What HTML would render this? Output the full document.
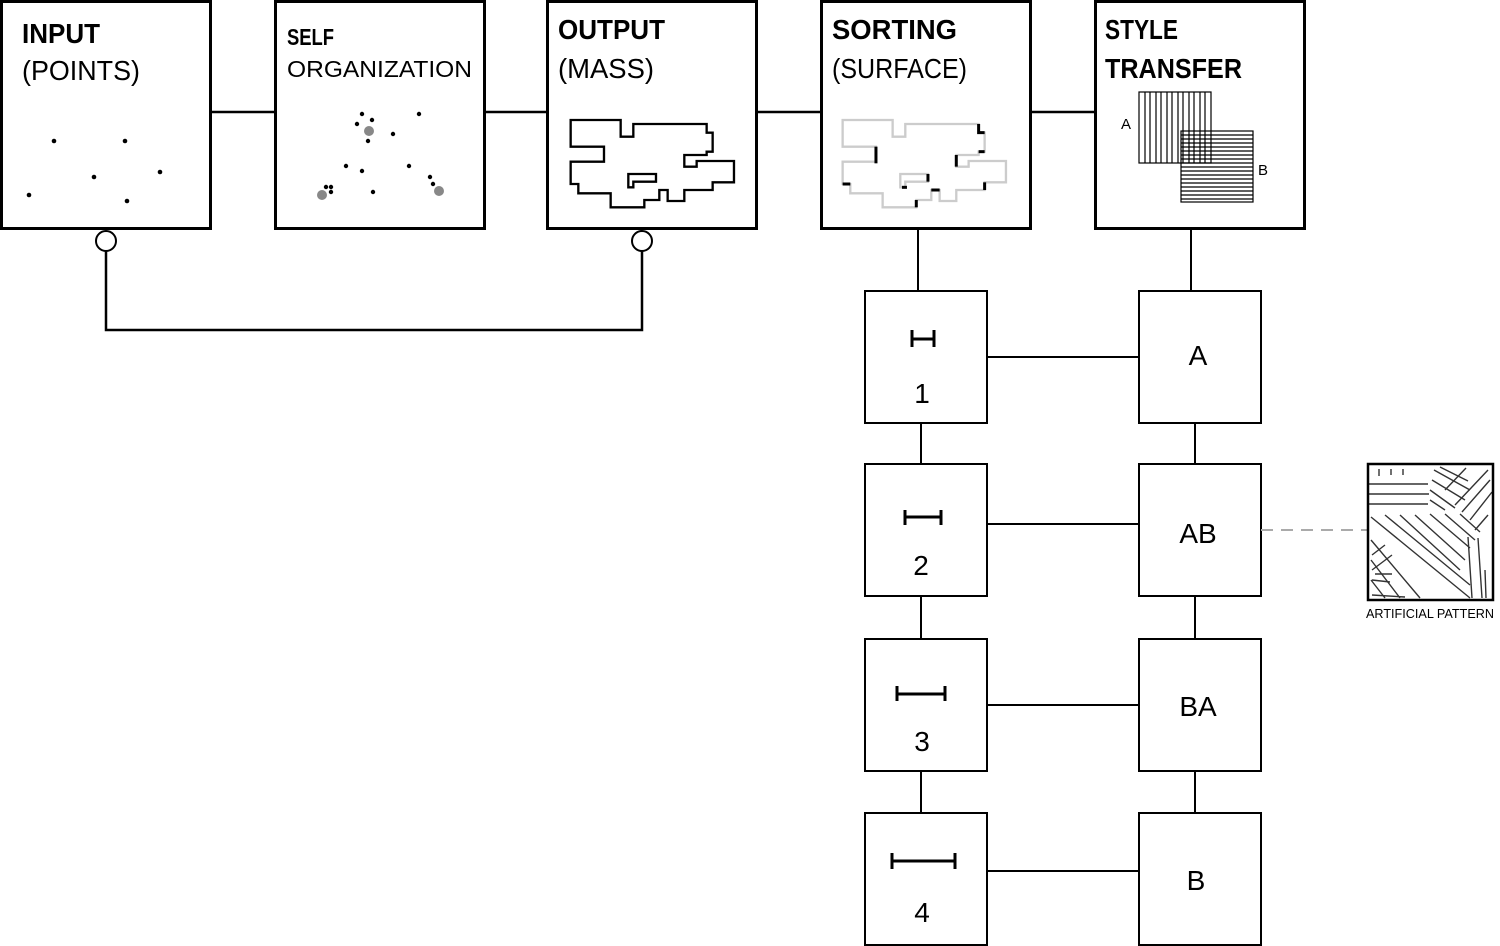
<!DOCTYPE html>
<html><head><meta charset="utf-8"><style>
html,body{margin:0;padding:0;background:#fff;}
svg{display:block;}
text{font-family:"Liberation Sans",sans-serif;fill:#000;}
</style></head><body>
<svg width="1500" height="946" viewBox="0 0 1500 946" xmlns="http://www.w3.org/2000/svg">
<g fill="none" stroke="#000" stroke-width="2.5">
<line x1="211" y1="112" x2="275" y2="112"/>
<line x1="485" y1="112" x2="547" y2="112"/>
<line x1="757" y1="112" x2="821" y2="112"/>
<line x1="1031" y1="112" x2="1095" y2="112"/>
<polyline points="106,251 106,330 642,330 642,251"/>
</g>
<g fill="#fff" stroke="#000" stroke-width="2">
<circle cx="106" cy="241" r="10"/>
<circle cx="642" cy="241" r="10"/>
</g>
<g fill="#fff" stroke="#000" stroke-width="3">
<rect x="1.5" y="1.5" width="209" height="227"/>
<rect x="275.5" y="1.5" width="209" height="227"/>
<rect x="547.5" y="1.5" width="209" height="227"/>
<rect x="821.5" y="1.5" width="209" height="227"/>
<rect x="1095.5" y="1.5" width="209" height="227"/>
</g>
<text x="22" y="43" font-size="28" font-weight="bold" textLength="78" lengthAdjust="spacingAndGlyphs">INPUT</text>
<text x="22" y="80" font-size="28" textLength="118" lengthAdjust="spacingAndGlyphs">(POINTS)</text>
<text x="287" y="45" font-size="23" font-weight="bold" textLength="47" lengthAdjust="spacingAndGlyphs">SELF</text>
<text x="287" y="77" font-size="23" textLength="185" lengthAdjust="spacingAndGlyphs">ORGANIZATION</text>
<text x="558" y="39" font-size="28" font-weight="bold" textLength="107" lengthAdjust="spacingAndGlyphs">OUTPUT</text>
<text x="558" y="78" font-size="28" textLength="96" lengthAdjust="spacingAndGlyphs">(MASS)</text>
<text x="832" y="39" font-size="28" font-weight="bold" textLength="125" lengthAdjust="spacingAndGlyphs">SORTING</text>
<text x="832" y="78" font-size="28" textLength="135" lengthAdjust="spacingAndGlyphs">(SURFACE)</text>
<text x="1105" y="39" font-size="28" font-weight="bold" textLength="73" lengthAdjust="spacingAndGlyphs">STYLE</text>
<text x="1105" y="78" font-size="28" font-weight="bold" textLength="137" lengthAdjust="spacingAndGlyphs">TRANSFER</text>
<g fill="#000">
<circle cx="54" cy="141" r="2.3"/><circle cx="125" cy="141" r="2.3"/><circle cx="94" cy="177" r="2.3"/>
<circle cx="160" cy="172" r="2.3"/><circle cx="29" cy="195" r="2.3"/><circle cx="127" cy="201" r="2.3"/>
<circle cx="362" cy="114" r="2.2"/><circle cx="357" cy="124" r="2.2"/><circle cx="372" cy="120" r="2.2"/>
<circle cx="393" cy="134" r="2.2"/><circle cx="419" cy="114" r="2.2"/><circle cx="368" cy="141" r="2.2"/>
<circle cx="346" cy="166" r="2.2"/><circle cx="362" cy="171" r="2.2"/><circle cx="409" cy="166" r="2.2"/>
<circle cx="430" cy="177" r="2.2"/><circle cx="433" cy="184" r="2.2"/><circle cx="326" cy="187" r="2.2"/>
<circle cx="331" cy="187" r="2.2"/><circle cx="331" cy="192" r="2.2"/><circle cx="373" cy="192" r="2.2"/>
</g>
<g fill="#888"><circle cx="369" cy="131" r="5"/><circle cx="439" cy="191" r="5"/><circle cx="322" cy="195" r="5"/></g>
<g transform="translate(540,100) scale(0.3333)" fill="none" stroke-width="7">
<polygon stroke="#000" points="92,60 242,60 242,110 280,110 280,72 500,72 500,98 518,98 518,155 500,155 500,165 433,165 433,200 470,200 470,183 582,183 582,247 518,247 518,270 433,270 433,303 383,303 383,270 358,270 358,300 313,300 313,322 212,322 212,280 115,280 115,252 92,252 92,185 192,185 192,140 92,140"/>
<polygon stroke="#000" points="265,222 348,222 348,245 280,245 280,262 265,262"/>
<g transform="translate(816,0)">
<polygon stroke="#ccc" points="92,60 242,60 242,110 280,110 280,72 500,72 500,98 518,98 518,155 500,155 500,165 433,165 433,200 470,200 470,183 582,183 582,247 518,247 518,270 433,270 433,303 383,303 383,270 358,270 358,300 313,300 313,322 212,322 212,280 115,280 115,252 92,252 92,185 192,185 192,140 92,140"/>
<polygon stroke="#ccc" points="265,222 348,222 348,245 280,245 280,262 265,262"/>
<g stroke="#000" stroke-width="9">
<polyline points="500,72 500,98 518,98"/><line x1="500" y1="155" x2="518" y2="155"/>
<line x1="192" y1="140" x2="192" y2="190"/><line x1="433" y1="165" x2="433" y2="200"/>
<line x1="92" y1="252" x2="115" y2="252"/><line x1="348" y1="222" x2="348" y2="245"/>
<line x1="270" y1="262" x2="285" y2="262"/><line x1="358" y1="270" x2="383" y2="270"/>
<line x1="518" y1="247" x2="518" y2="270"/><line x1="313" y1="300" x2="313" y2="322"/>
</g></g></g>
<g fill="none" stroke="#000" stroke-width="1.2">
<rect x="1139" y="92" width="72" height="71"/>
<rect x="1181" y="131" width="72" height="71"/>
<path d="M1145 92V163M1150 92V163M1156 92V163M1161 92V163M1167 92V163M1172 92V163M1178 92V163M1183 92V163M1189 92V163M1194 92V163M1200 92V163M1205 92V163"/>
<path d="M1181 135H1253M1181 139H1253M1181 143H1253M1181 147H1253M1181 151H1253M1181 155H1253M1181 159H1253M1181 163H1253M1181 167H1253M1181 171H1253M1181 175H1253M1181 179H1253M1181 183H1253M1181 187H1253M1181 191H1253M1181 195H1253M1181 199H1253"/>
</g>
<text x="1121" y="129" font-size="15">A</text>
<text x="1258" y="175" font-size="15">B</text>
<g fill="none" stroke="#000" stroke-width="2">
<line x1="918" y1="229" x2="918" y2="291"/>
<line x1="1191" y1="229" x2="1191" y2="291"/>
<line x1="921" y1="423" x2="921" y2="464"/><line x1="921" y1="596" x2="921" y2="639"/><line x1="921" y1="771" x2="921" y2="813"/>
<line x1="1195" y1="423" x2="1195" y2="464"/><line x1="1195" y1="596" x2="1195" y2="639"/><line x1="1195" y1="771" x2="1195" y2="813"/>
<line x1="987" y1="357" x2="1139" y2="357"/><line x1="987" y1="524" x2="1139" y2="524"/>
<line x1="987" y1="705" x2="1139" y2="705"/><line x1="987" y1="871" x2="1139" y2="871"/>
<rect x="865" y="291" width="122" height="132"/><rect x="865" y="464" width="122" height="132"/>
<rect x="865" y="639" width="122" height="132"/><rect x="865" y="813" width="122" height="132"/>
<rect x="1139" y="291" width="122" height="132"/><rect x="1139" y="464" width="122" height="132"/>
<rect x="1139" y="639" width="122" height="132"/><rect x="1139" y="813" width="122" height="132"/>
</g>
<g fill="none" stroke="#000" stroke-width="3">
<path d="M912 330V347M934 330V347M912 339H934"/>
<path d="M905 510V525M941 510V525M905 517H941"/>
<path d="M897 686V701M945 686V701M897 694H945"/>
<path d="M892 853V869M955 853V869M892 861H955"/>
</g>
<g font-size="28" text-anchor="middle">
<text x="922" y="403">1</text><text x="921" y="575">2</text><text x="922" y="751">3</text><text x="922" y="922">4</text>
<text x="1198" y="365">A</text><text x="1198" y="543">AB</text><text x="1198" y="716">BA</text><text x="1196" y="890">B</text>
</g>
<line x1="1261" y1="530" x2="1367" y2="530" stroke="#aaa" stroke-width="2" stroke-dasharray="12,8"/>
<g fill="none" stroke="#333" stroke-width="1.4">
<path d="M1369 484H1428M1369 494H1429M1369 504H1428M1379 469L1379 476M1391 469V475M1403 469V475"/>
<path d="M1434 470L1470 490M1440 467L1468 481M1432 480L1465 500M1430 490L1455 508M1430 500L1445 510"/>
<path d="M1488 470L1455 505M1490 480L1462 512M1492 492L1470 520M1488 515L1475 530M1466 468L1445 490"/>
<path d="M1371 517L1470 598M1385 515L1470 585M1400 515L1460 570M1415 515L1465 560M1430 514L1470 548M1445 514L1475 540M1460 514L1480 532"/>
<path d="M1371 540L1420 598M1371 560L1400 598M1371 580L1385 598"/>
<path d="M1468 537L1472 598M1478 538L1482 598M1485 570L1486 598"/>
<path d="M1372 555L1385 545M1372 570L1392 555M1375 574L1392 574M1372 580L1390 582M1372 595L1405 597"/>
</g>
<rect x="1368" y="464" width="125" height="136" fill="none" stroke="#000" stroke-width="2.5"/>
<text x="1366" y="618" font-size="13" textLength="128" lengthAdjust="spacingAndGlyphs">ARTIFICIAL PATTERN</text>
</svg>
</body></html>
